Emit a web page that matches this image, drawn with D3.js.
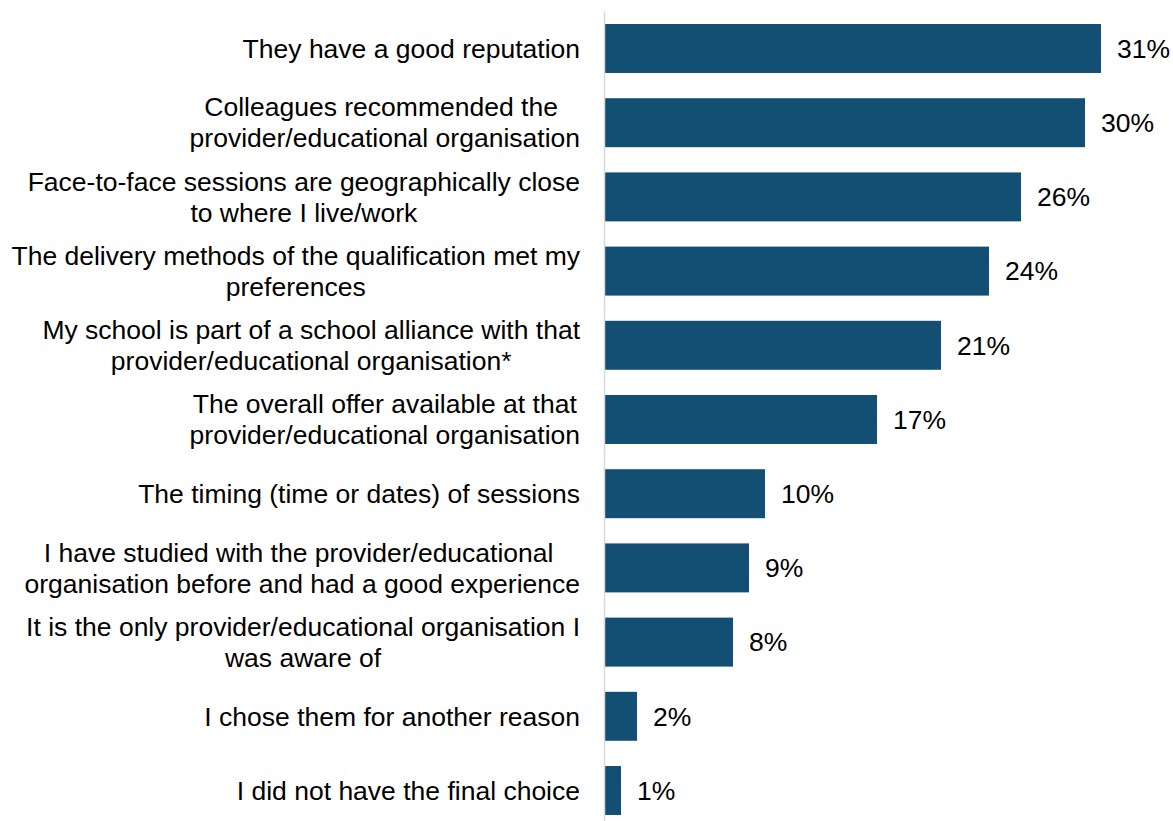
<!DOCTYPE html>
<html>
<head>
<meta charset="utf-8">
<script src="https://cdn.jsdelivr.net/npm/d3@7"></script>
<style>
  html, body { margin: 0; padding: 0; background: #fff; }
  svg { display: block; }
  text { font-family: "Liberation Sans", Arial, sans-serif; fill: #000; }
</style>
</head>
<body>
<svg id="chart" width="1173" height="821"></svg>
<script>
// Reasons for choosing the provider / educational organisation
const categories = [
  "They have a good reputation",
  "Colleagues recommended the \nprovider/educational organisation",
  "Face-to-face sessions are geographically close\nto where I live/work",
  "The delivery methods of the qualification met my\npreferences",
  "My school is part of a school alliance with that\nprovider/educational organisation*",
  "The overall offer available at that\nprovider/educational organisation",
  "The timing (time or dates) of sessions",
  "I have studied with the provider/educational \norganisation before and had a good experience",
  "It is the only provider/educational organisation I\nwas aware of",
  "I chose them for another reason",
  "I did not have the final choice"
];
const values = [31, 30, 26, 24, 21, 17, 10, 9, 8, 2, 1];

const width = 1173, height = 821;
const axisX = 605;
const labelRight = axisX - 25;
const fontSize = 26.5;
const lineHeight = 31;
const barColor = "#124f73";

const svg = d3.select("#chart");

const x = d3.scaleLinear().domain([0, 31]).range([axisX, axisX + 496]);
const y = d3.scaleBand()
  .domain(categories)
  .range([11.4, 827.6])
  .paddingInner(0.34)
  .paddingOuter(0.17);

// bars
svg.append("g").selectAll("rect")
  .data(values)
  .join("rect")
  .attr("x", x(0))
  .attr("y", (d, i) => y(categories[i]))
  .attr("width", d => x(d) - x(0))
  .attr("height", y.bandwidth())
  .attr("fill", barColor);

// category axis line
svg.append("line")
  .attr("x1", axisX - 0.5).attr("x2", axisX - 0.5)
  .attr("y1", y.range()[0]).attr("y2", height)
  .attr("stroke", "#d9d9d9")
  .attr("stroke-width", 1.5);

// category labels: block right aligned against the axis, lines centred in the block
const labels = svg.append("g").selectAll("text")
  .data(categories)
  .join("text")
  .attr("text-anchor", "middle")
  .attr("font-size", fontSize);

labels.each(function(d) {
  const lines = d.split("\n");
  const t = d3.select(this);
  const offset = -(lines.length - 1) * lineHeight / 2;
  const spans = lines.map((ln, k) => t.append("tspan")
    .attr("y", y(d) + y.bandwidth() / 2 + offset + k * lineHeight)
    .attr("dy", "0.35em")
    .attr("xml:space", "preserve")
    .text(ln));
  const maxW = d3.max(spans, s => s.node().getComputedTextLength());
  spans.forEach(s => s.attr("x", labelRight - maxW / 2));
});

// value labels
svg.append("g").selectAll("text")
  .data(values)
  .join("text")
  .attr("font-size", fontSize)
  .attr("x", d => x(d) + 16)
  .attr("y", (d, i) => y(categories[i]) + y.bandwidth() / 2)
  .attr("dy", "0.35em")
  .text(d => d + "%");
</script>
</body>
</html>
